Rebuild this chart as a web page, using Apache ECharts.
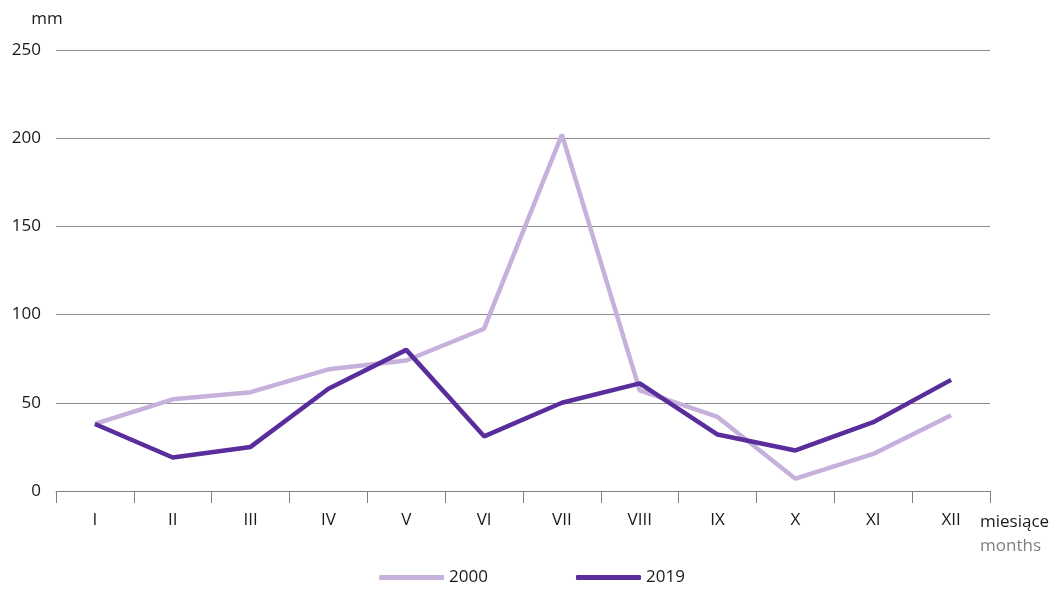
<!DOCTYPE html>
<html><head><meta charset="utf-8">
<script src="https://cdn.jsdelivr.net/npm/echarts@6/dist/echarts.min.js"></script>
<style>html,body{margin:0;padding:0;background:#fff}#c{width:1064px;height:589px}</style>
</head><body><div id="c"></div>
<script>
const months = ['I','II','III','IV','V','VI','VII','VIII','IX','X','XI','XII'];
const s2000 = [38,52,56,69,74,92,202,57,42,7,21,43];
const s2019 = [38,19,25,58,80,31,50,61,32,23,39,63];
const yTicks = [0,50,100,150,200,250];
const font = 'Open Sans';
const chart = echarts.init(document.getElementById('c'));
chart.setOption({
  animation:false,
  textStyle:{fontFamily:font},
  grid:{left:56,right:74,top:50,bottom:98},
  xAxis:{type:'category',data:months,boundaryGap:true,
    axisLine:{lineStyle:{color:'#7f7f7f',width:1}},
    axisTick:{show:true,length:12,lineStyle:{color:'#7f7f7f'}},
    axisLabel:{color:'#1a1a1a',fontSize:17,margin:21,fontFamily:font},
    name:'{a|miesiące}\n{b|months}',nameLocation:'end',nameGap:-10,
    nameTextStyle:{align:'left',verticalAlign:'top',padding:[19,0,0,0],
      rich:{a:{color:'#1a1a1a',fontSize:17,fontFamily:font,lineHeight:24},b:{color:'#808080',fontSize:17,fontFamily:font,lineHeight:24}}}
  },
  yAxis:{type:'value',min:0,max:250,interval:50,
    axisLine:{show:false},axisTick:{show:false},
    splitLine:{lineStyle:{color:'#8c8c8c',width:1}},
    axisLabel:{color:'#1a1a1a',fontSize:17,margin:15,fontFamily:font,formatter:v=>yTicks.includes(v)?String(v):''},
    name:'mm',nameLocation:'end',nameGap:22,
    nameTextStyle:{color:'#1a1a1a',fontSize:17,align:'center',padding:[0,0,0,-18],fontFamily:font}
  },
  legend:{bottom:-2,left:'center',itemWidth:65,itemHeight:5,itemGap:88,
    icon:'roundRect',
    textStyle:{color:'#1a1a1a',fontSize:17,fontFamily:font},
    data:['2000','2019']},
  series:[
    {name:'2000',type:'line',data:s2000,symbol:'none',lineStyle:{color:'#c6b1dd',width:4.5},itemStyle:{color:'#c6b1dd'}},
    {name:'2019',type:'line',data:s2019,symbol:'none',lineStyle:{color:'#5a2d9c',width:4.5},itemStyle:{color:'#5a2d9c'}}
  ]
});
</script></body></html>
